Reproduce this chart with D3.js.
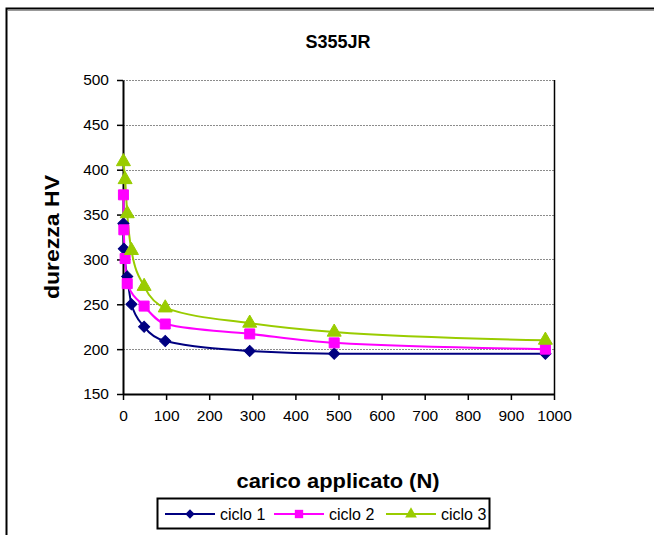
<!DOCTYPE html>
<html>
<head>
<meta charset="utf-8">
<script src="https://cdn.jsdelivr.net/npm/d3@7"></script>
<style>
  body { margin: 0; background: #fff; }
  svg { display: block; font-family: Arial, "Liberation Sans", sans-serif; }
</style>
</head>
<body>
<div id="chart"></div>
<script>
// ========================
// Data
// ========================
const loads1 = [0.98, 1.96, 9.8, 19.6, 49, 98, 294, 490, 980];
const hv1 = [340, 312, 281, 250, 225, 209, 198, 195, 195];

const loads2 = [0.98, 1.96, 4.9, 9.8, 49, 98, 294, 490, 980];
const hv2 = [372, 333, 301, 273, 248, 228, 217, 207, 200];

const loads3 = [0.98, 4.9, 9.8, 19.6, 49, 98, 294, 490, 980];
const hv3 = [409, 389, 351, 310, 270, 246, 229, 219, 210];

const seriesNames = ["ciclo 1", "ciclo 2", "ciclo 3"];
const seriesColors = ["#000080", "#FF00FF", "#99CC00"];

const xTicks = [0, 100, 200, 300, 400, 500, 600, 700, 800, 900, 1000];
const yTicks = [150, 200, 250, 300, 350, 400, 450, 500];

const series = [
    { name: seriesNames[0], points: loads1.map((x, i) => ({ x, y: hv1[i] })) },
    { name: seriesNames[1], points: loads2.map((x, i) => ({ x, y: hv2[i] })) },
    { name: seriesNames[2], points: loads3.map((x, i) => ({ x, y: hv3[i] })) }
];

// marker shapes: diamond = rotated square, square, triangle
const markers = [
    { type: d3.symbolSquare, size: 62, rotate: 45 },
    { type: d3.symbolSquare, size: 100, rotate: 0 },
    { type: d3.symbolTriangle, size: 85, rotate: 0 }
];

// ========================
// Setup
// ========================
const width = 654, height = 535;
const plot = { left: 123, right: 554, top: 80, bottom: 394 };

const svg = d3.select("#chart").append("svg")
    .attr("width", width)
    .attr("height", height);

// chart frame (runs off the right and bottom edges)
svg.append("rect")
    .attr("x", 6.5).attr("y", 8.5)
    .attr("width", 720).attr("height", 600)
    .attr("fill", "#fff")
    .attr("stroke", "#000")
    .attr("stroke-width", 2);
svg.append("line")
    .attr("x1", 8).attr("x2", width)
    .attr("y1", 10.5).attr("y2", 10.5)
    .attr("stroke", "#999").attr("stroke-width", 1);

const x = d3.scaleLinear().domain([0, 1000]).range([plot.left, plot.right]);
const y = d3.scaleLinear().domain([150, 500]).range([plot.bottom, plot.top]);

// ========================
// Gridlines
// ========================
svg.append("g")
    .selectAll("line")
    .data(yTicks.filter(t => t > 150))
    .join("line")
    .attr("x1", plot.left).attr("x2", plot.right)
    .attr("y1", d => Math.round(y(d)) + 0.5)
    .attr("y2", d => Math.round(y(d)) + 0.5)
    .attr("stroke", "#8c8c8c")
    .attr("stroke-width", 1.2)
    .attr("stroke-dasharray", "2,1");

// right border of plot area
svg.append("line")
    .attr("x1", plot.right + 0.5).attr("x2", plot.right + 0.5)
    .attr("y1", plot.top).attr("y2", plot.bottom)
    .attr("stroke", "#000").attr("stroke-width", 1.5);

// ========================
// Axes
// ========================
const xAxis = svg.append("g")
    .attr("transform", `translate(0,${plot.bottom})`)
    .call(d3.axisBottom(x).tickValues(xTicks).tickFormat(d3.format("d"))
        .tickSize(6).tickPadding(10).tickSizeOuter(0));

const yAxis = svg.append("g")
    .attr("transform", `translate(${plot.left},0)`)
    .call(d3.axisLeft(y).tickValues(yTicks).tickFormat(d3.format("d"))
        .tickSize(6).tickPadding(8).tickSizeOuter(0));

[xAxis, yAxis].forEach(ax => {
    ax.select(".domain").attr("stroke", "#000").attr("stroke-width", 2);
    ax.selectAll(".tick line").attr("stroke", "#000").attr("stroke-width", 1.5);
    ax.selectAll(".tick text")
        .attr("fill", "#000")
        .style("font-size", "15.5px")
        .style("font-family", "Arial, 'Liberation Sans', sans-serif");
});

// ========================
// Lines + markers
// ========================
const line = d3.line()
    .x(d => x(d.x))
    .y(d => y(d.y))
    .curve(d3.curveMonotoneX);

series.forEach((s, i) => {
    svg.append("path")
        .datum(s.points)
        .attr("fill", "none")
        .attr("stroke", seriesColors[i])
        .attr("stroke-width", 2)
        .attr("d", line);
});

series.forEach((s, i) => {
    const m = markers[i];
    const sym = d3.symbol().type(m.type).size(m.size);
    svg.append("g")
        .selectAll("path")
        .data(s.points)
        .join("path")
        .attr("transform", d => `translate(${x(d.x)},${y(d.y)}) rotate(${m.rotate})`)
        .attr("d", sym)
        .attr("fill", seriesColors[i])
        .attr("stroke", seriesColors[i])
        .attr("stroke-width", 1);
});

// ========================
// Titles
// ========================
svg.append("text")
    .attr("x", 338).attr("y", 48)
    .attr("text-anchor", "middle")
    .style("font-size", "18px")
    .style("font-weight", "bold")
    .text("S355JR");

svg.append("text")
    .attr("x", 338).attr("y", 488)
    .attr("text-anchor", "middle")
    .attr("textLength", 203)
    .attr("lengthAdjust", "spacingAndGlyphs")
    .style("font-size", "20px")
    .style("font-weight", "bold")
    .text("carico applicato (N)");

svg.append("text")
    .attr("transform", `translate(59,237) rotate(-90)`)
    .attr("text-anchor", "middle")
    .attr("textLength", 124)
    .attr("lengthAdjust", "spacingAndGlyphs")
    .style("font-size", "20px")
    .style("font-weight", "bold")
    .text("durezza HV");

// ========================
// Legend
// ========================
const legend = svg.append("g");
legend.append("rect")
    .attr("x", 157.5).attr("y", 498.5)
    .attr("width", 332).attr("height", 30)
    .attr("fill", "#fff")
    .attr("stroke", "#000")
    .attr("stroke-width", 2);

const legendX = [165, 274, 386];
seriesNames.forEach((name, i) => {
    const lx = legendX[i];
    const ly = 514;
    const m = markers[i];
    legend.append("line")
        .attr("x1", lx).attr("x2", lx + 50)
        .attr("y1", ly).attr("y2", ly)
        .attr("stroke", seriesColors[i])
        .attr("stroke-width", 2);
    legend.append("path")
        .attr("transform", `translate(${lx + 25},${ly}) rotate(${m.rotate})`)
        .attr("d", d3.symbol().type(m.type).size(m.size * 0.7)())
        .attr("fill", seriesColors[i]);
    legend.append("text")
        .attr("x", lx + 55).attr("y", ly + 5.5)
        .style("font-size", "16px")
        .text(name);
});
</script>
</body>
</html>
